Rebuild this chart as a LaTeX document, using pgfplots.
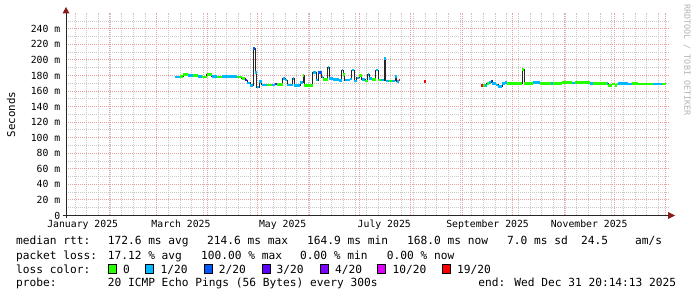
\documentclass[border=0pt]{standalone}
\usepackage{pgfplots}
\usepackage{pgfplotstable}
\pgfplotsset{compat=1.18}
\usepackage{fontspec}
\setmonofont{DejaVu Sans Mono}
\newfontfamily\rrd{DejaVu Sans Mono}
\newcommand\legfont{\rrd\fontsize{11.2bp}{13bp}\selectfont}
\newcommand\axfont{\rrd\fontsize{9.8bp}{11bp}\selectfont}
\newcommand\unitfont{\rrd\fontsize{10.8bp}{12bp}\selectfont}
\newcommand\wmfont{\rrd\fontsize{8.4bp}{10bp}\selectfont}
\definecolor{lc0}{HTML}{26FF00}
\definecolor{lc1}{HTML}{00B8FF}
\definecolor{lc2}{HTML}{0059FF}
\definecolor{lc3}{HTML}{5E00FF}
\definecolor{lc4}{HTML}{7E00FF}
\definecolor{lc10}{HTML}{DD00FF}
\definecolor{lc19}{HTML}{FF0000}
\definecolor{mgrid}{HTML}{E8A0A0}
\definecolor{mingrid}{HTML}{C8C8C8}
\definecolor{arrowred}{HTML}{8B1C1C}

% x = day of 2025 (0 = Jan 1), v = median rtt in ms, c = lost pings out of 20 (-1 = none)
\pgfplotstableread{
x v c
70.4 178 1
73.4 179 0
75.4 181 0
78.4 180 1
81.4 180 0
84.4 179 1
86.4 178 0
89.4 181 0
92.4 179 1
95.4 178 0
98.4 179 1
101.4 179 1
104.4 179 1
107.4 178 0
110.4 176 0
112.4 174 3
113.8 170.5 1
115.4 167.5 1
117.4 215 2
118.4 183.5 1
119.4 165 1
121.0 172 1
122.4 168 1
125.4 168 0
128.4 168 1
130.4 169 3
131.4 168.5 0
135.0 176.5 1
136.4 174 1
137.8 168 1
141.0 176.5 1
141.8 167 1
145.4 171 1
147.2 180 0
147.8 167 0
150.4 167 0
153.0 183.5 1
155.0 174 1
156.4 184 2
158.4 178 1
159.4 175 0
162.0 190 1
163.0 176 1
165.4 175 1
168.8 173.5 1
170.5 187 1
171.4 181 0
172.4 174 1
175.4 175.5 1
176.5 187 1
177.9 173 1
179.5 177 1
181.0 180 0
182.5 175 1
184.5 173 0
186.0 181 1
187.0 176 1
188.5 175 0
191.0 187 1
192.4 174 0
193.9 174 1
196.0 201.5 1
197.0 173 1
199.0 173 0
200.5 173 1
202.5 179 1
203.5 172 1
204.7 174 19
205.7 174 -1
205.8 nan -1
220.0 172.6 19
221.0 172.6 -1
221.1 nan -1
254.1 167.5 19
255.5 167 0
256.5 167 1
257.5 169.7 0
258.9 171 1
260.1 173 2
260.9 170 1
262.9 168 1
264.5 166 1
266.9 170 1
268.5 171 1
269.5 170 0
278.9 187.7 0
279.9 170 0
285.5 171 1
289.5 170 0
296.0 170 1
297.0 170 0
302.5 171 0
308.5 170.5 1
310.5 171 0
319.5 170 1
321.5 170 0
329.5 170 1
330.5 167.5 0
332.5 169 0
334.5 167 0
335.5 169 0
336.5 169.5 1
342.5 169 1
344.5 170 0
348.5 169 0
357.5 169 1
362.5 169 0
364.8 169 -1
}\rtt

\begin{document}
\begin{tikzpicture}
\path[use as bounding box] (0,0) rectangle (697bp,297bp);
\begin{axis}[
  at={(66bp,81.5bp)}, anchor=south west,
  scale only axis, width=602.5bp, height=202.2bp,
  xmin=4.98, xmax=366.6, ymin=0, ymax=260,
  axis line style={draw=none},
  major tick length=0pt, minor tick length=0pt,
  xtick={15,74,135,196,258,319},
  xticklabels={January 2025,March 2025,May 2025,July 2025,September 2025,November 2025},
  xmajorgrids=false,
  minor xtick={10.5,17.5,...,364.5},
  xminorgrids=true,
  extra x ticks={31,59,90,120,151,181,212,243,273,304,334,365},
  extra x tick labels={},
  extra x tick style={xmajorgrids=true, xminorgrids=false},
  ytick={0,20,...,240},
  yticklabels={0,20 m,40 m,60 m,80 m,100 m,120 m,140 m,160 m,180 m,200 m,220 m,240 m},
  minor ytick={10,30,...,250},
  ymajorgrids=true, yminorgrids=true,
  major grid style={draw=mgrid, line width=1bp, dash pattern=on 1bp off 1bp},
  minor grid style={draw=mingrid, line width=1bp, dash pattern=on 1bp off 1bp},
  tick label style={font=\axfont, inner sep=0pt, text=black},
  xticklabel style={anchor=base, yshift=-12bp},
  yticklabel style={anchor=east, xshift=-5.5bp},
  unbounded coords=jump,
  clip=true,
]
\addplot[const plot mark left, draw=black!85, line width=0.9bp] table[x=x, y=v] {\rtt};
\addplot[jump mark left, draw=lc0, line width=2.6bp] table[x=x, y expr={\thisrow{c}==0 ? \thisrow{v} : -1000}] {\rtt};
\addplot[jump mark left, draw=lc1, line width=2.6bp] table[x=x, y expr={\thisrow{c}==1 ? \thisrow{v} : -1000}] {\rtt};
\addplot[jump mark left, draw=lc2, line width=2.6bp] table[x=x, y expr={\thisrow{c}==2 ? \thisrow{v} : -1000}] {\rtt};
\addplot[jump mark left, draw=lc3, line width=2.6bp] table[x=x, y expr={\thisrow{c}==3 ? \thisrow{v} : -1000}] {\rtt};
\addplot[jump mark left, draw=lc19, line width=2.6bp] table[x=x, y expr={\thisrow{c}==19 ? \thisrow{v} : -1000}] {\rtt};
\end{axis}
% axes with arrow heads
\draw[black!85, line width=1bp] (62.5bp,81.5bp) -- (669bp,81.5bp);
\fill[arrowred] (668bp,78bp) -- (675bp,81.5bp) -- (668bp,85bp) -- cycle;
\draw[black!85, line width=1bp] (66bp,78.5bp) -- (66bp,284bp);
\fill[arrowred] (62.5bp,283.5bp) -- (66bp,290bp) -- (69.5bp,283.5bp) -- cycle;
% unit label and watermark
\node[rotate=90, inner sep=0pt, font=\unitfont] at (11bp,182.6bp) {Seconds};
\node[rotate=-90, inner sep=0pt, font=\wmfont, text=black!30] at (687bp,237bp) {RRDTOOL / TOBI OETIKER};
% legend
\begin{scope}[every node/.style={anchor=base west, inner sep=0pt, font=\legfont}]
\node at (16bp,52bp) {median rtt:};
\node at (107.6bp,52bp) {172.6 ms avg};
\node at (207bp,52bp) {214.6 ms max};
\node at (307bp,52bp) {164.9 ms min};
\node at (407bp,52bp) {168.0 ms now};
\node at (507bp,52bp) {7.0 ms sd};
\node at (581bp,52bp) {24.5};
\node at (635bp,52bp) {am/s};
\node at (16bp,38bp) {packet loss:};
\node at (107.6bp,38bp) {17.12 \% avg};
\node at (201bp,38bp) {100.00 \% max};
\node at (300bp,38bp) {0.00 \% min};
\node at (386.7bp,38bp) {0.00 \% now};
\node at (16bp,23.7bp) {loss color:};
\node at (123bp,23.7bp) {0};
\node at (160.4bp,23.7bp) {1/20};
\node at (218.7bp,23.7bp) {2/20};
\node at (276.4bp,23.7bp) {3/20};
\node at (335bp,23.7bp) {4/20};
\node at (392.4bp,23.7bp) {10/20};
\node at (456.9bp,23.7bp) {19/20};
\node at (16bp,10.3bp) {probe:};
\node at (107.6bp,10.3bp) {20 ICMP Echo Pings (56 Bytes) every 300s};
\node at (478.2bp,10.3bp) {end: Wed Dec 31 20:14:13 2025};
\end{scope}
\foreach \bx/\bc in {108/lc0,145.8/lc1,204/lc2,262.2/lc3,320/lc4,377.8/lc10,442.7/lc19}
  \draw[black, line width=0.8bp, fill=\bc] (\bx bp,23.9bp) rectangle ++(8bp,8.2bp);
\end{tikzpicture}
\end{document}
